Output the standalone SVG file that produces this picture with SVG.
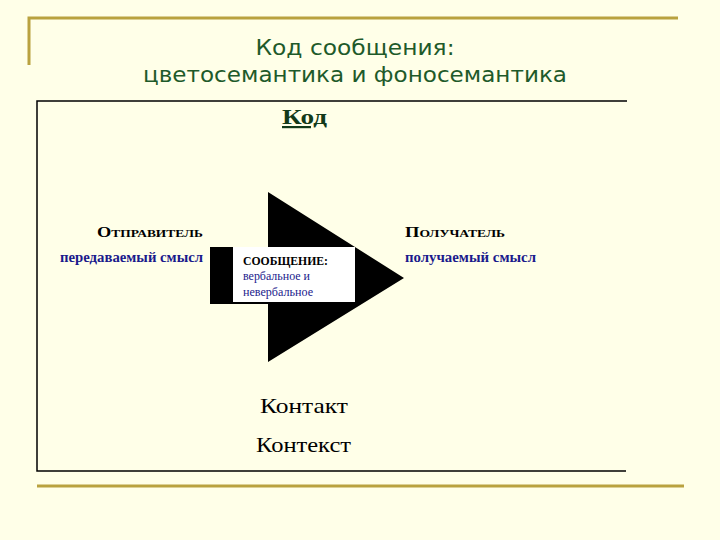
<svg xmlns="http://www.w3.org/2000/svg" width="720" height="540" viewBox="0 0 720 540">
<style>
.gold{stroke:#B9A23F;stroke-width:3;fill:none}
.frame{stroke:#000;stroke-width:1.5;fill:none}
.title{font-family:"DejaVu Sans",sans-serif;font-size:22px;fill:#1E5A2A;text-anchor:middle}
.head{font-family:"Liberation Serif",serif;font-weight:bold;font-size:15px;fill:#000;font-variant:small-caps}
.blue{font-family:"Liberation Serif",serif;font-weight:bold;font-size:14px;fill:#1A1A8C}
.big{font-family:"Liberation Serif",serif;font-size:22px;fill:#000}
.msg{font-family:"Liberation Serif",serif;font-size:12px;fill:#1A1A8C}
</style>
<rect width="720" height="540" fill="#FFFFE8"/>
<g id="decor">
<path class="gold" d="M29,65 V18 H678"/>
<line class="gold" x1="37" y1="486" x2="684" y2="486"/>
<path class="frame" d="M627,101 H37 V471 H626"/>
</g>
<g id="title">
<text class="title" x="355" y="55" textLength="199" lengthAdjust="spacingAndGlyphs">Код сообщения:</text>
<text class="title" x="355" y="82" textLength="424" lengthAdjust="spacingAndGlyphs">цветосемантика и фоносемантика</text>
</g>
<g id="code">
<text x="282" y="124" font-family="Liberation Serif,serif" font-weight="bold" font-size="22" fill="#123A1A" text-decoration="underline" textLength="45" lengthAdjust="spacingAndGlyphs">Код</text>
</g>
<g id="connectors">
<polygon points="210,247 268,247 268,192 404,278 268,362 268,304 210,304" fill="#000"/>
</g>
<g id="sender">
<text class="head" x="97" y="237" textLength="106" lengthAdjust="spacingAndGlyphs">Отправитель</text>
<text class="blue" x="60" y="262" textLength="143" lengthAdjust="spacingAndGlyphs">передаваемый смысл</text>
</g>
<g id="message">
<rect x="233" y="247" width="122" height="55" fill="#FFFFFF"/>
<text x="243" y="265" font-family="Liberation Serif,serif" font-weight="bold" font-size="12" fill="#000" textLength="85" lengthAdjust="spacingAndGlyphs">СООБЩЕНИЕ:</text>
<text class="msg" x="243" y="280" textLength="67" lengthAdjust="spacingAndGlyphs">вербальное и</text>
<text class="msg" x="243" y="296" textLength="70" lengthAdjust="spacingAndGlyphs">невербальное</text>
</g>
<g id="receiver">
<text class="head" x="405" y="237" textLength="100" lengthAdjust="spacingAndGlyphs">Получатель</text>
<text class="blue" x="405" y="262" textLength="131" lengthAdjust="spacingAndGlyphs">получаемый смысл</text>
</g>
<g id="contact">
<text class="big" x="260" y="413" textLength="88" lengthAdjust="spacingAndGlyphs">Контакт</text>
</g>
<g id="context">
<text class="big" x="256" y="452" textLength="95" lengthAdjust="spacingAndGlyphs">Контекст</text>
</g>
</svg>
